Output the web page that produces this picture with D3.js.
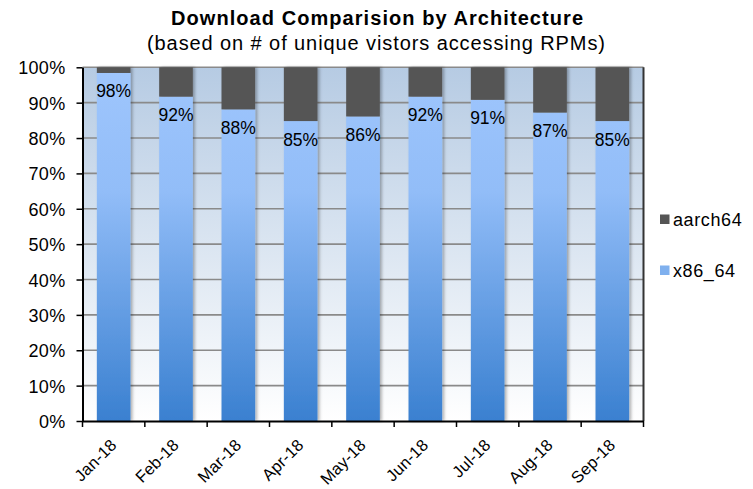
<!DOCTYPE html>
<html><head><meta charset="utf-8">
<script src="https://cdn.jsdelivr.net/npm/d3@7"></script>
<style>
body{margin:0;background:#fff;}
text{font-family:"Liberation Sans",Arial,sans-serif;}
</style></head>
<body>
<svg id="chart" width="753" height="489"></svg>
<script>
const categories = ["Jan-18","Feb-18","Mar-18","Apr-18","May-18","Jun-18","Jul-18","Aug-18","Sep-18"];
const x86_64 = [98.4, 91.7, 88.1, 84.8, 86.1, 91.7, 90.8, 87.2, 84.8];
const aarch64 = x86_64.map(v => 100 - v);
const yTicks = [0,10,20,30,40,50,60,70,80,90,100];
const seriesNames = ["x86_64","aarch64"];

const svg = d3.select("#chart");
const m = {left:82.5, right:643.5, top:67.3, bottom:421};

const defs = svg.append("defs");
const bg = defs.append("linearGradient").attr("id","bg").attr("x1",0).attr("y1",0).attr("x2",0).attr("y2",1);
bg.append("stop").attr("offset","0%").attr("stop-color","#b6cbe3");
bg.append("stop").attr("offset","100%").attr("stop-color","#ffffff");
const bl = defs.append("linearGradient").attr("id","blue").attr("gradientUnits","userSpaceOnUse")
  .attr("x1",0).attr("y1",m.top).attr("x2",0).attr("y2",m.bottom);
bl.append("stop").attr("offset","0%").attr("stop-color","#9fc6fd");
bl.append("stop").attr("offset","35%").attr("stop-color","#92bdf8");
bl.append("stop").attr("offset","100%").attr("stop-color","#3a80d0");
const sh = defs.append("filter").attr("id","shadow").attr("x","-20%").attr("y","-5%").attr("width","150%").attr("height","110%");
sh.append("feDropShadow").attr("dx",2).attr("dy",0).attr("stdDeviation",1.5).attr("flood-color","#000").attr("flood-opacity",0.3);

const x = d3.scaleBand().domain(categories).range([m.left, m.right]).paddingInner(0.46).paddingOuter(0.23);
const y = d3.scaleLinear().domain([0,100]).range([m.bottom, m.top]);

// plot background
svg.append("rect").attr("x",m.left).attr("y",m.top).attr("width",m.right-m.left).attr("height",m.bottom-m.top).attr("fill","url(#bg)");

// gridlines
svg.append("g").selectAll("line").data(yTicks.filter(t=>t>0)).join("line")
  .attr("x1",m.left).attr("x2",m.right).attr("y1",d=>y(d)).attr("y2",d=>y(d))
  .attr("stroke","#8a8a8a").attr("stroke-width",1.6);

// bars
const g = svg.append("g").attr("filter","url(#shadow)");
g.selectAll("rect.x86").data(categories).join("rect").attr("class","x86")
  .attr("x",d=>x(d)).attr("width",x.bandwidth())
  .attr("y",(d,i)=>y(x86_64[i])).attr("height",(d,i)=>y(0)-y(x86_64[i]))
  .attr("fill","url(#blue)");
g.selectAll("rect.arm").data(categories).join("rect").attr("class","arm")
  .attr("x",d=>x(d)).attr("width",x.bandwidth())
  .attr("y",(d,i)=>y(100)).attr("height",(d,i)=>y(100-aarch64[i])-y(100))
  .attr("fill","#555555");

// labels
svg.append("g").selectAll("text").data(categories).join("text")
  .attr("x",d=>x(d)+x.bandwidth()/2).attr("y",(d,i)=>y(x86_64[i])+24.5)
  .attr("text-anchor","middle").attr("font-size",17.5).attr("fill","#000")
  .text((d,i)=>Math.round(x86_64[i])+"%");

// axes
const yAxis = d3.axisLeft(y).tickValues(yTicks).tickFormat(d=>d+"%").tickSize(6).tickSizeOuter(0);
const ya = svg.append("g").attr("transform",`translate(${m.left},0)`).call(yAxis);
ya.select(".domain").attr("stroke","#000").attr("stroke-width",2);
ya.selectAll(".tick line").attr("stroke","#000").attr("stroke-width",1.5);
ya.selectAll(".tick text").attr("font-size",18).attr("letter-spacing","0.3px").attr("fill","#000").attr("x",-17).attr("dy","0.36em")
  .attr("font-family","'Liberation Sans',Arial,sans-serif");

// right border
svg.append("line").attr("x1",m.right).attr("x2",m.right).attr("y1",m.top).attr("y2",m.bottom).attr("stroke","#333").attr("stroke-width",2);

const xa = svg.append("g").attr("transform",`translate(0,${m.bottom})`)
  .call(d3.axisBottom(x).tickSize(0).tickSizeOuter(0));
xa.select(".domain").attr("stroke","#000").attr("stroke-width",2);
xa.selectAll(".tick text").attr("font-size",16.5).attr("letter-spacing","0.2px").attr("fill","#000")
  .attr("font-family","'Liberation Sans',Arial,sans-serif")
  .attr("text-anchor","end").attr("transform","translate(4,25) rotate(-45)").attr("dy",0).attr("y",0);
// boundary ticks
svg.append("g").selectAll("line").data(d3.range(categories.length+1)).join("line")
  .attr("x1",i=>m.left+i*(m.right-m.left)/categories.length).attr("x2",i=>m.left+i*(m.right-m.left)/categories.length)
  .attr("y1",m.bottom).attr("y2",m.bottom+6).attr("stroke","#000").attr("stroke-width",1.5);

// title
svg.append("text").attr("x",377).attr("y",25).attr("text-anchor","middle").attr("font-size",20).attr("font-weight","bold")
  .attr("textLength",412).attr("lengthAdjust","spacing")
  .text("Download Comparision by Architecture");
svg.append("text").attr("x",376).attr("y",50).attr("text-anchor","middle").attr("font-size",20)
  .attr("textLength",458).attr("lengthAdjust","spacing")
  .text("(based on # of unique vistors accessing RPMs)");

// legend
const legendItems = [{name:"aarch64", fill:"#555555", y:219.5},{name:"x86_64", fill:"#7fb0ee", y:270.5}];
const lg = svg.append("g");
lg.selectAll("rect").data(legendItems).join("rect")
  .attr("x",660).attr("y",d=>d.y-5).attr("width",9.5).attr("height",9.5).attr("fill",d=>d.fill);
lg.selectAll("text").data(legendItems).join("text")
  .attr("x",673).attr("y",d=>d.y).attr("dy","0.36em").attr("font-size",18).attr("letter-spacing","0.6px").text(d=>d.name);
</script>
</body></html>
